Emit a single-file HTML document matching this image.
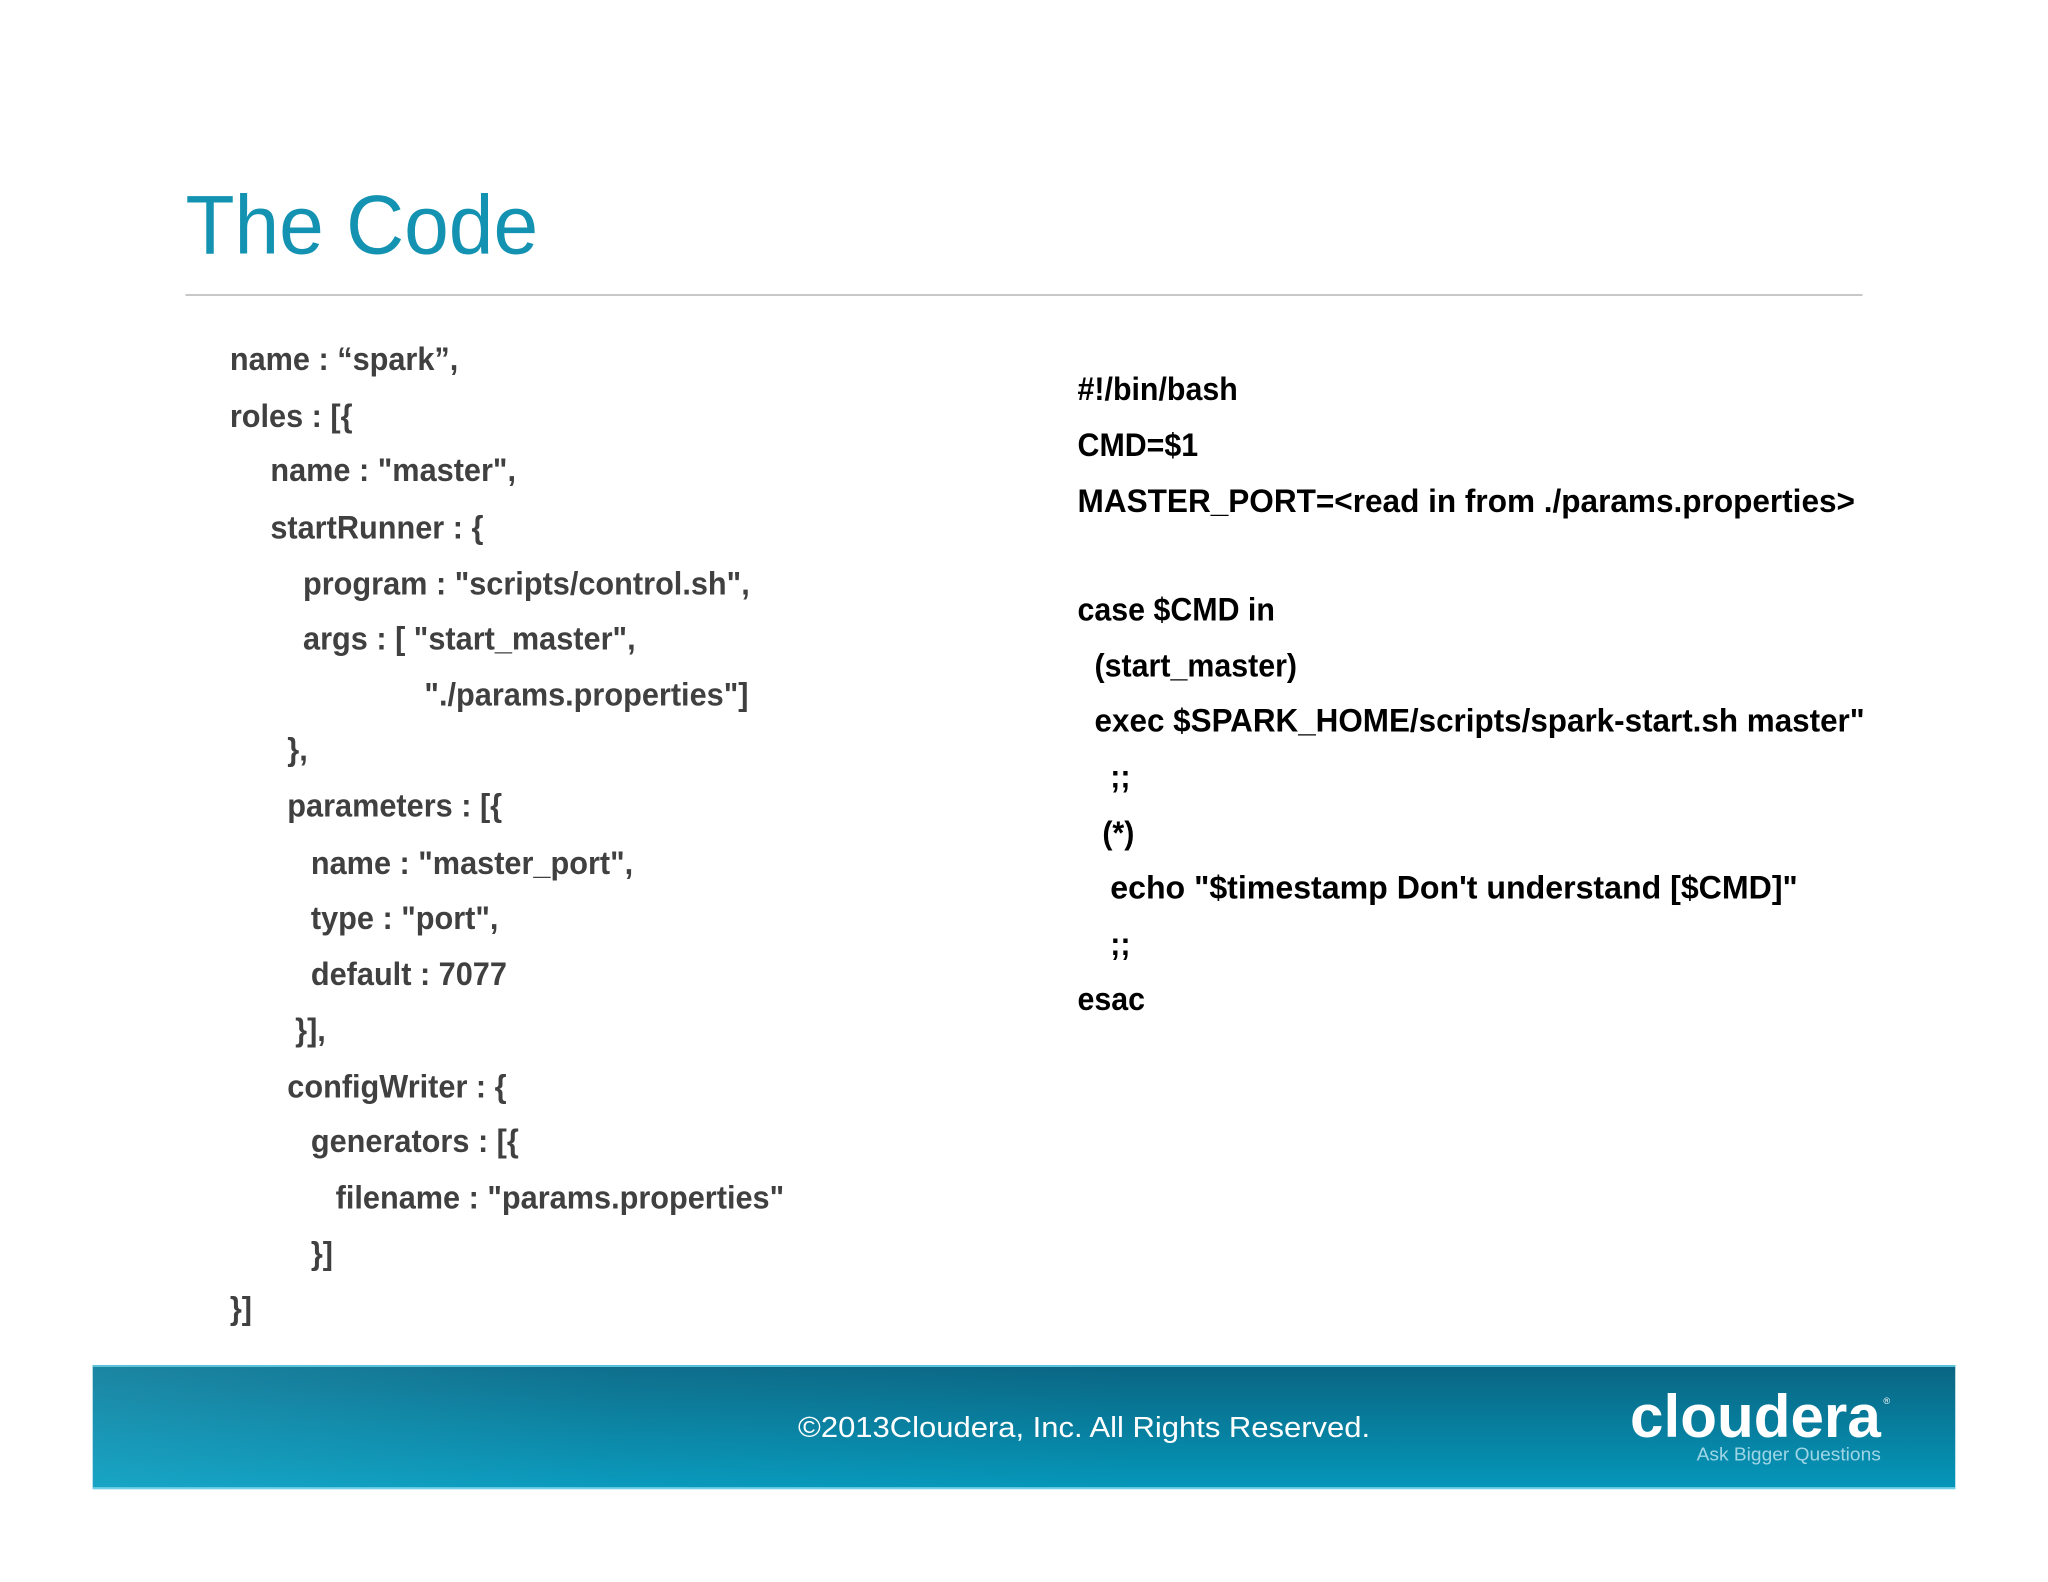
<!DOCTYPE html>
<html><head><meta charset="utf-8"><style>html,body{margin:0;padding:0;background:#fff}svg{display:block}</style></head>
<body>
<svg width="2048" height="1582" viewBox="0 0 1568 1211" xmlns="http://www.w3.org/2000/svg">
<defs>
<linearGradient id="g" x1="0" y1="0" x2="0" y2="1">
<stop offset="0" stop-color="#0a6582"/><stop offset="1" stop-color="#0597ba"/>
</linearGradient>
<linearGradient id="h" x1="0" y1="0" x2="1" y2="0">
<stop offset="0" stop-color="#3cc0dc" stop-opacity="0.35"/><stop offset="0.5" stop-color="#3cc0dc" stop-opacity="0.1"/><stop offset="1" stop-color="#3cc0dc" stop-opacity="0"/>
</linearGradient>
</defs>
<rect width="1568" height="1211" fill="#fff"/>
<text x="142" y="194" font-family="Liberation Sans, sans-serif" font-size="64" fill="#1393b1" textLength="270" lengthAdjust="spacingAndGlyphs">The Code</text>
<rect x="142" y="225" width="1284" height="1.5" fill="#c8c8c8"/>
<g font-family="Liberation Sans, sans-serif" font-weight="bold" font-size="25" fill="#404040">
<g transform="scale(0.94,1)">
<text x="187.2" y="283">name : “spark”,</text>
<text x="187.2" y="327">roles : [{</text>
<text x="220.2" y="368">name : "master",</text>
<text x="220.2" y="412">startRunner : {</text>
<text x="246.8" y="455">program : "scripts/control.sh",</text>
<text x="246.8" y="497">args : [  "start_master",</text>
<text x="345.7" y="540">"./params.properties"]</text>
<text x="234" y="582">},</text>
<text x="234" y="625">parameters : [{</text>
<text x="253.2" y="669">name : "master_port",</text>
<text x="253.2" y="711">type : "port",</text>
<text x="253.2" y="754">default : 7077</text>
<text x="240.4" y="797">}],</text>
<text x="234" y="840">configWriter : {</text>
<text x="253.2" y="882">generators : [{</text>
<text x="273.4" y="925">filename : "params.properties"</text>
<text x="253.2" y="968">}]</text>
<text x="187.2" y="1010">}]</text>
</g>
</g>
<g font-family="Liberation Sans, sans-serif" font-weight="bold" font-size="25" fill="#000">
<g transform="scale(0.93,1)">
<text x="887.1" y="306">#!/bin/bash</text>
<text x="887.1" y="349">CMD=$1</text>
<text x="887.1" y="392" textLength="640" lengthAdjust="spacingAndGlyphs">MASTER_PORT=&lt;read in from ./params.properties&gt;</text>
<text x="887.1" y="475">case $CMD in</text>
<text x="901.1" y="518">(start_master)</text>
<text x="901.1" y="560" textLength="634" lengthAdjust="spacingAndGlyphs">exec $SPARK_HOME/scripts/spark-start.sh master"</text>
<text x="914" y="603">;;</text>
<text x="907.5" y="646">(*)</text>
<text x="914" y="688" textLength="566" lengthAdjust="spacingAndGlyphs">echo "$timestamp Don't understand [$CMD]"</text>
<text x="914" y="731">;;</text>
<text x="887.1" y="773">esac</text>
</g>
</g>
<rect x="71" y="1045" width="1426" height="95" fill="url(#g)"/>
<rect x="71" y="1045" width="800" height="95" fill="url(#h)"/>
<rect x="71" y="1045" width="1426" height="1.5" fill="#5ec3dc"/>
<rect x="71" y="1138.5" width="1426" height="1.5" fill="#6fd0e6"/>
<text x="611" y="1100" font-family="Liberation Sans, sans-serif" font-size="22" fill="#fff" textLength="438" lengthAdjust="spacingAndGlyphs">©2013Cloudera, Inc. All Rights Reserved.</text>
<text x="1248" y="1100" font-family="Liberation Sans, sans-serif" font-weight="bold" font-size="46" fill="#fff" textLength="192" lengthAdjust="spacingAndGlyphs">cloudera</text>
<text x="1442" y="1075" font-family="Liberation Sans, sans-serif" font-size="7" fill="#fff">®</text>
<text x="1299" y="1118" font-family="Liberation Sans, sans-serif" font-size="14" fill="#9fd6e6" textLength="141" lengthAdjust="spacingAndGlyphs">Ask Bigger Questions</text>
</svg>
</body></html>
